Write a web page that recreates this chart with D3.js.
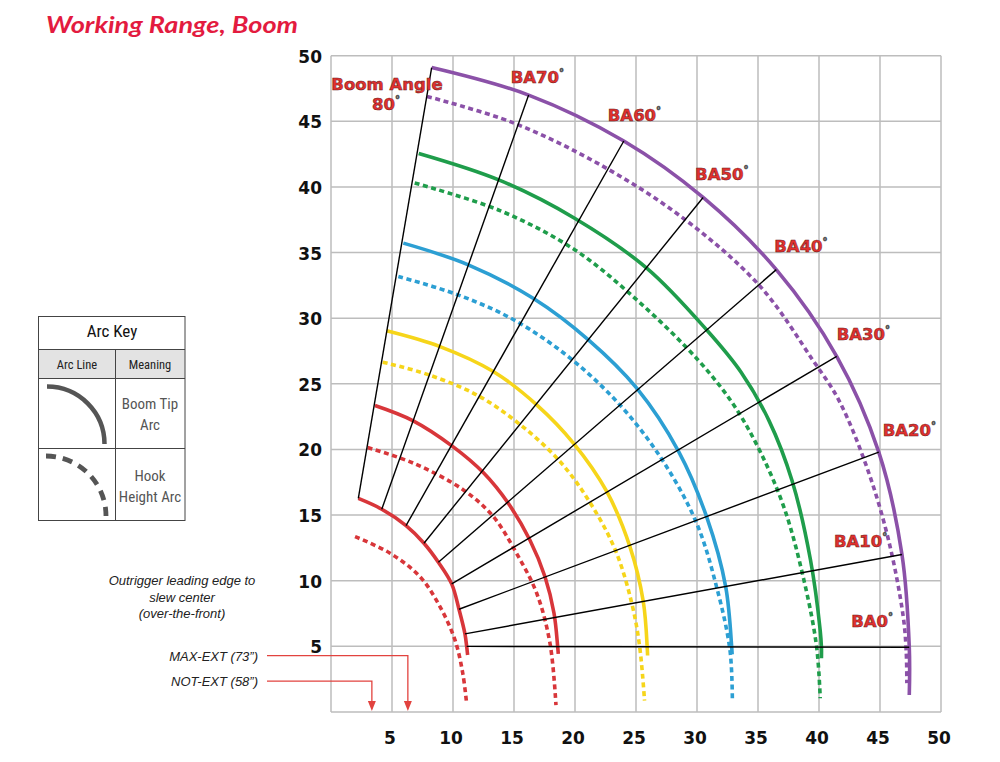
<!DOCTYPE html>
<html><head><meta charset="utf-8">
<script src="https://cdn.jsdelivr.net/npm/d3@7"></script>
<style>body{margin:0;background:#fff}svg{display:block}</style>
</head><body>
<svg id="chart" width="1000" height="762"></svg>
<script>
// ---------- data (feet) ----------
const xTicks = [5,10,15,20,25,30,35,40,45,50];
const yTicks = [5,10,15,20,25,30,35,40,45,50];
const gridValues = [0,5,10,15,20,25,30,35,40,45,50];
const boomAngles = [80,70,60,50,40,30,20,10,0];
const angleLabels = ["Boom Angle 80","BA70","BA60","BA50","BA40","BA30","BA20","BA10","BA0"];

// boom tip arcs (solid) and hook height arcs (dashed)
const redInnerTip  = [[2.24,16.27],[4.16,15.45],[6.15,14.20],[7.62,12.86],[8.80,11.41],[9.89,9.76],[10.49,7.83],[10.98,5.95],[11.12,5.0],[11.2,4.34]];
const redInnerHook = [[1.97,13.36],[4.84,12.1],[7.3,10.3],[8.93,8.03],[10.16,5.49],[10.8,2.95],[11.12,0.61]];
const redOuterTip  = [[3.6,23.35],[6.7,22.2],[10.02,20.2],[12.48,18.24],[14.53,15.9],[16.3,13.1],[17.54,10.3],[18.28,7.52],[18.58,4.98],[18.63,4.42]];
const redOuterHook = [[3.0,20.15],[6.75,18.96],[10.85,16.92],[13.3,14.89],[15.2,12.1],[16.86,9.05],[17.95,5.24],[18.44,0.53]];
const yellowTip    = [[4.56,29.04],[8.93,27.84],[13.3,25.94],[16.86,23.4],[19.9,20.45],[22.6,16.8],[24.5,12.6],[25.6,8.4],[25.93,4.73],[25.95,4.3]];
const yellowHook   = [[4.24,26.65],[7.84,25.74],[11.94,24.16],[15.5,21.9],[18.77,19.08],[21.2,16.0],[23.3,12.35],[24.65,8.3],[25.3,4.98],[25.7,0.86]];
const blueTip      = [[5.93,35.72],[11.25,34.07],[16.6,31.5],[21.1,28.35],[25.06,24.67],[28.5,19.84],[30.8,14.84],[32.35,9.55],[32.85,4.86],[32.88,4.4]];
const blueHook     = [[5.52,33.18],[10.35,31.8],[14.94,29.9],[19.6,26.96],[23.8,23.27],[27.24,19.08],[29.97,14.38],[31.6,9.55],[32.7,4.73],[32.9,0.79]];
const greenTip     = [[7.19,42.55],[13.85,40.5],[20.0,37.6],[25.9,33.8],[30.8,29.1],[33.6,25.9],[35.9,22.2],[37.8,17.6],[39.3,11.6],[40.1,6.2],[40.2,4.9],[40.2,4.1]];
const greenHook    = [[6.86,40.3],[13.85,38.2],[20.0,35.2],[25.3,31.2],[30.1,26.8],[33.0,23.4],[35.2,19.8],[37.2,15.4],[38.8,9.9],[39.8,5.0],[40.1,1.05]];
const purpleTip    = [[8.25,49.1],[16.2,47.0],[24.0,43.5],[30.5,39.2],[36.5,33.7],[41.45,27.1],[44.9,19.8],[46.8,12.0],[47.4,4.93],[47.4,1.3]];
const purpleHook   = [[7.87,46.9],[14.9,44.9],[22.05,41.7],[28.9,37.6],[35.2,32.4],[39.5,26.8],[41.6,23.8],[43.9,18.7],[45.7,13.1],[46.9,7.3],[47.15,4.6],[47.2,2.2]];

// boom-angle lines run from the retracted tip arc to the fully extended tip arc
const baInner = redInnerTip.slice(0, 9);
const baOuter = purpleTip.slice(0, 9);

// outrigger leading edge markers (ft)
const outriggerNames = ["MAX-EXT (73\u201d)", "NOT-EXT (58\u201d)"];
const outriggerX = [6.3, 3.35];
const outriggerLevel = [4.3, 2.35];

// ---------- layout ----------
const svg = d3.select("#chart");
const x = d3.scaleLinear().domain([0,50]).range([331,941]);
const y = d3.scaleLinear().domain([0,50]).range([712,55.7]);

const arcSeries = [
  {pts: redInnerTip,  color:"#d8363a", dash:false},
  {pts: redInnerHook, color:"#d8363a", dash:true},
  {pts: redOuterTip,  color:"#d8363a", dash:false},
  {pts: redOuterHook, color:"#d8363a", dash:true},
  {pts: yellowTip,    color:"#f6d51a", dash:false},
  {pts: yellowHook,   color:"#f6d51a", dash:true},
  {pts: blueTip,      color:"#2c9fd3", dash:false},
  {pts: blueHook,     color:"#2c9fd3", dash:true},
  {pts: greenTip,     color:"#1f9d4b", dash:false},
  {pts: greenHook,    color:"#1f9d4b", dash:true},
  {pts: purpleTip,    color:"#8b51a8", dash:false},
  {pts: purpleHook,   color:"#8b51a8", dash:true}
];

// title
svg.append("text").attr("x",46).attr("y",33)
  .attr("font-family","Lato, 'Open Sans', sans-serif").attr("font-weight",700)
  .attr("font-style","italic").attr("font-size",23).attr("fill","#e31b3f")
  .attr("textLength",252).attr("lengthAdjust","spacingAndGlyphs")
  .text("Working Range, Boom");

// grid
const grid = svg.append("g").attr("stroke","#bdbdbd").attr("stroke-width",1.5);
grid.selectAll("line.v").data(gridValues).join("line").attr("class","v")
  .attr("x1",d=>x(d)).attr("x2",d=>x(d)).attr("y1",y(0)).attr("y2",y(50));
grid.selectAll("line.h").data(gridValues).join("line").attr("class","h")
  .attr("y1",d=>y(d)).attr("y2",d=>y(d)).attr("x1",x(0)).attr("x2",x(50));

// tick labels
const tickFont = "'DejaVu Sans', sans-serif";
svg.append("g").selectAll("text").data(xTicks).join("text")
  .attr("x",d=>x(d)-2).attr("y",744).attr("text-anchor","middle")
  .attr("font-family",tickFont).attr("font-weight","bold").attr("font-size",17)
  .attr("fill","#111").text(d=>d);
svg.append("g").selectAll("text").data(yTicks).join("text")
  .attr("x",322).attr("y",d=>y(d)+7).attr("text-anchor","end")
  .attr("font-family",tickFont).attr("font-weight","bold").attr("font-size",17)
  .attr("fill","#111").text(d=>d);

// arcs
const line = d3.line().x(d=>x(d[0])).y(d=>y(d[1])).curve(d3.curveCatmullRom.alpha(0.5));
svg.append("g").selectAll("path").data(arcSeries).join("path")
  .attr("d",d=>line(d.pts)).attr("fill","none")
  .attr("stroke",d=>d.color).attr("stroke-width",3.6)
  .attr("stroke-dasharray",d=>d.dash ? "5,3.6" : null);

// boom angle lines
svg.append("g").selectAll("line").data(boomAngles).join("line")
  .attr("x1",(d,i)=>x(baInner[i][0])).attr("y1",(d,i)=>y(baInner[i][1]))
  .attr("x2",(d,i)=>x(baOuter[i][0])).attr("y2",(d,i)=>y(baOuter[i][1]))
  .attr("stroke","#000").attr("stroke-width",1.4);

// boom angle labels (offset from the outer tip point, px)
const labelOffsets = [[-45,0],[-18,-12],[-16,-20],[-8,-17],[-2,-18],[0,-16],[4,-16],[-68,-7],[-58,-20]];
const lblG = svg.append("g").attr("font-family",tickFont).attr("font-weight","bold")
  .attr("font-size",16.5).attr("fill","#e3302e").attr("stroke","#6a1d1d")
  .attr("stroke-width",0.55);
boomAngles.forEach((a,i)=>{
  const px = x(baOuter[i][0]), py = y(baOuter[i][1]);
  if (i === 0) {
    const t = lblG.append("text").attr("text-anchor","middle");
    t.append("tspan").attr("x",387).attr("y",90).text("Boom Angle");
    const t2 = lblG.append("text").attr("text-anchor","start");
    t2.append("tspan").attr("x",372).attr("y",110).text(a);
    t2.append("tspan").attr("font-size",10).attr("dy",-7).attr("fill","#fff").attr("stroke","#555").attr("stroke-width",0.8).text("°");
    return;
  }
  const t = lblG.append("text").attr("x",px+labelOffsets[i][0]).attr("y",py+labelOffsets[i][1]);
  t.append("tspan").text(angleLabels[i]);
  t.append("tspan").attr("font-size",10).attr("dy",-7).attr("fill","#fff").attr("stroke","#555").attr("stroke-width",0.8).text("°");
});

// outrigger annotation
const noteFont = "'Liberation Sans', Arial, sans-serif";
const note = svg.append("text").attr("text-anchor","middle").attr("font-family",noteFont)
  .attr("font-style","italic").attr("font-size",13).attr("fill","#222");
["Outrigger leading edge to","slew center","(over-the-front)"].forEach((s,i)=>{
  note.append("tspan").attr("x",182).attr("y",585+i*16.5).text(s);
});
outriggerNames.forEach((n,i)=>{
  const ly = y(outriggerLevel[i]);
  svg.append("text").attr("x",258).attr("y",ly+5).attr("text-anchor","end")
    .attr("font-family",noteFont).attr("font-style","italic").attr("font-size",13)
    .attr("fill","#222").text(n);
  const ax = x(outriggerX[i]);
  svg.append("path").attr("d",`M267,${ly}H${ax}V${y(0)-9}`)
    .attr("fill","none").attr("stroke","#e2433f").attr("stroke-width",1.3);
  svg.append("path").attr("d",`M${ax-4},${y(0)-11}L${ax+4},${y(0)-11}L${ax},${y(0)-1}Z`)
    .attr("fill","#e2433f");
});

// arc key legend
const kFont = "'Liberation Sans Narrow', 'Roboto Condensed', 'Noto Sans', sans-serif";
const key = svg.append("g");
key.append("rect").attr("x",38.5).attr("y",349.5).attr("width",146.5).attr("height",29).attr("fill","#e3e3e3");
key.append("rect").attr("x",38.5).attr("y",316.5).attr("width",146.5).attr("height",204).attr("fill","none").attr("stroke","#444").attr("stroke-width",1);
[349.5,378.5,448.5].forEach(v=>key.append("line").attr("x1",38.5).attr("x2",185).attr("y1",v).attr("y2",v).attr("stroke","#444"));
key.append("line").attr("x1",115.5).attr("x2",115.5).attr("y1",349.5).attr("y2",520.5).attr("stroke","#444");
key.append("text").attr("x",112).attr("y",337).attr("text-anchor","middle").attr("font-family",kFont)
  .attr("font-size",17).attr("fill","#111").text("Arc Key");
key.append("text").attr("x",77).attr("y",369).attr("text-anchor","middle").attr("font-family",kFont)
  .attr("font-size",12.5).attr("fill","#222").text("Arc Line");
key.append("text").attr("x",150).attr("y",369).attr("text-anchor","middle").attr("font-family",kFont)
  .attr("font-size",12.5).attr("fill","#222").text("Meaning");
[["Boom Tip",409],["Arc",430],["Hook",481],["Height Arc",502]].forEach(([s,yy])=>{
  key.append("text").attr("x",150).attr("y",yy).attr("text-anchor","middle").attr("font-family",kFont)
    .attr("font-size",15).attr("fill","#555").text(s);
});
const p1 = d3.path(); p1.moveTo(47,386.5); p1.arc(47,444,57.5,-Math.PI/2,0);
key.append("path").attr("d",p1.toString()).attr("fill","none").attr("stroke","#555").attr("stroke-width",4.5);
const p2 = d3.path(); p2.moveTo(46,456); p2.arc(46,516,60,-Math.PI/2,0);
key.append("path").attr("d",p2.toString()).attr("fill","none").attr("stroke","#555").attr("stroke-width",4.8)
  .attr("stroke-dasharray","10,7");
</script>
</body></html>
